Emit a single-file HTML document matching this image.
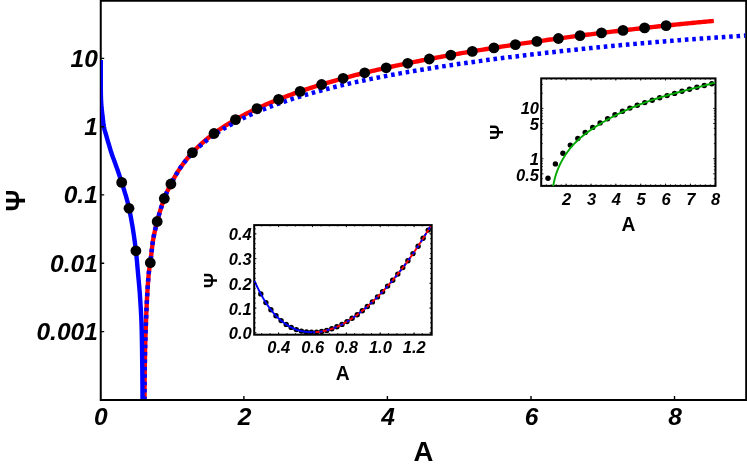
<!DOCTYPE html>
<html><head><meta charset="utf-8"><title>Plot</title>
<style>html,body{margin:0;padding:0;background:#fff;}svg{display:block;transform:translateZ(0);will-change:transform;}</style></head>
<body>
<svg width="747" height="467" viewBox="0 0 747 467" font-family="'Liberation Sans', sans-serif" font-weight="bold" fill="#000">
<rect width="747" height="467" fill="#fff"/>
<defs><clipPath id="cp"><rect x="100.8" y="0" width="644.5" height="399"/></clipPath></defs>
<g fill="none" stroke="#000">
<path d="M100.75 0.8 H746.2 V399.9 H100.75 Z" stroke-width="2.0"/>
</g>
<g fill="none" stroke-linejoin="round" clip-path="url(#cp)">
<path d="M144.50 400.00 L144.50 398.18 L144.50 396.37 L144.51 394.55 L144.52 392.74 L144.53 390.92 L144.54 389.10 L144.55 387.29 L144.57 385.47 L144.58 383.66 L144.60 381.84 L144.62 380.02 L144.64 378.21 L144.66 376.39 L144.69 374.58 L144.71 372.76 L144.73 370.94 L144.76 369.13 L144.79 367.31 L144.81 365.50 L144.84 363.68 L144.87 361.86 L144.90 360.05 L144.93 358.23 L144.96 356.42 L144.99 354.60 L145.02 352.78 L145.06 350.97 L145.10 349.15 L145.14 347.34 L145.19 345.52 L145.24 343.71 L145.29 341.89 L145.35 340.07 L145.41 338.26 L145.47 336.44 L145.53 334.63 L145.60 332.81 L145.66 330.99 L145.72 329.18 L145.79 327.36 L145.85 325.55 L145.92 323.73 L145.98 321.91 L146.05 320.10 L146.12 318.28 L146.19 316.47 L146.27 314.65 L146.34 312.83 L146.42 311.02 L146.50 309.20 L146.58 307.39 L146.66 305.57 L146.75 303.75 L146.84 301.94 L146.93 300.12 L147.03 298.31 L147.13 296.49 L147.23 294.67 L147.33 292.86 L147.44 291.04 L147.55 289.23 L147.66 287.41 L147.78 285.59 L147.90 283.78 L148.04 281.96 L148.18 280.15 L148.32 278.33 L148.48 276.51 L148.64 274.70 L148.82 272.88 L149.02 271.07 L149.27 269.25 L149.55 267.43 L149.85 265.62 L150.14 263.80 L150.40 261.99 L150.63 260.17 L150.85 258.35 L151.06 256.54 L151.26 254.72 L151.46 252.91 L151.66 251.09 L151.87 249.27 L152.08 247.46 L152.30 245.64 L152.54 243.83 L152.79 242.01 L153.07 240.19 L153.37 238.38 L153.70 236.56 L154.06 234.75 L154.44 232.93 L154.84 231.12 L155.26 229.30 L155.70 227.48 L156.14 225.67 L156.60 223.85 L157.06 222.04 L157.53 220.22 L158.01 218.40 L158.51 216.59 L159.01 214.77 L159.53 212.96 L160.07 211.14 L160.63 209.32 L161.20 207.51 L161.78 205.69 L162.39 203.88 L163.02 202.06 L163.66 200.24 L164.33 198.43 L165.03 196.61 L165.77 194.80 L166.55 192.98 L167.37 191.16 L168.22 189.35 L169.09 187.53 L169.99 185.72 L170.90 183.90 L172.72 180.49 L174.53 177.21 L176.35 174.10 L178.16 171.16 L179.98 168.37 L181.79 165.72 L183.61 163.20 L185.43 160.81 L187.24 158.53 L189.06 156.35 L190.87 154.27 L192.69 152.28 L194.50 150.37 L196.32 148.53 L198.14 146.77 L199.95 145.06 L201.77 143.41 L203.58 141.82 L205.40 140.27 L207.21 138.77 L209.03 137.30 L210.85 135.88 L212.66 134.49 L214.48 133.14 L216.29 131.82 L218.11 130.53 L219.92 129.27 L221.74 128.04 L223.56 126.84 L225.37 125.66 L227.19 124.52 L229.00 123.39 L230.82 122.29 L232.63 121.22 L234.45 120.16 L236.27 119.13 L238.08 118.12 L239.90 117.12 L241.71 116.15 L243.53 115.19 L245.34 114.25 L247.16 113.33 L248.98 112.42 L250.79 111.53 L252.61 110.65 L254.42 109.79 L256.24 108.94 L258.05 108.10 L259.87 107.27 L261.69 106.46 L263.50 105.66 L265.32 104.86 L267.13 104.08 L268.95 103.31 L270.76 102.55 L272.58 101.80 L274.40 101.05 L276.21 100.32 L278.03 99.59 L279.84 98.88 L281.66 98.17 L283.47 97.47 L285.29 96.78 L287.11 96.09 L288.92 95.42 L290.74 94.75 L292.55 94.09 L294.37 93.44 L296.18 92.79 L298.00 92.16 L299.82 91.53 L301.63 90.90 L303.45 90.29 L305.26 89.68 L307.08 89.07 L308.89 88.48 L310.71 87.89 L312.53 87.31 L314.34 86.73 L316.16 86.16 L317.97 85.59 L319.79 85.04 L321.60 84.48 L323.42 83.94 L325.24 83.39 L327.05 82.86 L328.87 82.33 L330.68 81.80 L332.50 81.28 L334.31 80.77 L336.13 80.26 L337.95 79.75 L339.76 79.25 L341.58 78.76 L343.39 78.27 L345.21 77.78 L347.02 77.30 L348.84 76.82 L350.66 76.35 L352.47 75.88 L354.29 75.41 L356.10 74.95 L357.92 74.50 L359.73 74.05 L361.55 73.60 L363.37 73.15 L365.18 72.71 L367.00 72.27 L368.81 71.84 L370.63 71.41 L372.44 70.98 L374.26 70.56 L376.08 70.14 L377.89 69.72 L379.71 69.30 L381.52 68.89 L383.34 68.49 L385.15 68.08 L386.97 67.68 L388.79 67.28 L390.60 66.88 L392.42 66.49 L394.23 66.10 L396.05 65.71 L397.86 65.32 L399.68 64.94 L401.50 64.56 L403.31 64.18 L405.13 63.81 L406.94 63.43 L408.76 63.06 L410.57 62.69 L412.39 62.33 L414.21 61.96 L416.02 61.60 L417.84 61.24 L419.65 60.88 L421.47 60.53 L423.28 60.17 L425.10 59.82 L426.92 59.47 L428.73 59.13 L430.55 58.78 L432.36 58.44 L434.18 58.10 L435.99 57.76 L437.81 57.42 L439.63 57.09 L441.44 56.75 L443.26 56.42 L445.07 56.09 L446.89 55.76 L448.71 55.44 L450.52 55.11 L452.34 54.79 L454.15 54.47 L455.97 54.15 L457.78 53.83 L459.60 53.52 L461.42 53.20 L463.23 52.89 L465.05 52.58 L466.86 52.27 L468.68 51.96 L470.49 51.66 L472.31 51.35 L474.13 51.05 L475.94 50.75 L477.76 50.45 L479.57 50.15 L481.39 49.85 L483.20 49.56 L485.02 49.26 L486.84 48.97 L488.65 48.68 L490.47 48.39 L492.28 48.10 L494.10 47.82 L495.91 47.53 L497.73 47.25 L499.55 46.97 L501.36 46.68 L503.18 46.40 L504.99 46.13 L506.81 45.85 L508.62 45.57 L510.44 45.30 L512.26 45.02 L514.07 44.75 L515.89 44.48 L517.70 44.21 L519.52 43.94 L521.33 43.68 L523.15 43.41 L524.97 43.14 L526.78 42.88 L528.60 42.62 L530.41 42.36 L532.23 42.10 L534.04 41.84 L535.86 41.58 L537.68 41.32 L539.49 41.07 L541.31 40.81 L543.12 40.56 L544.94 40.31 L546.75 40.05 L548.57 39.80 L550.39 39.55 L552.20 39.31 L554.02 39.06 L555.83 38.81 L557.65 38.57 L559.46 38.32 L561.28 38.08 L563.10 37.84 L564.91 37.59 L566.73 37.35 L568.54 37.12 L570.36 36.88 L572.17 36.64 L573.99 36.40 L575.81 36.17 L577.62 35.93 L579.44 35.70 L581.25 35.47 L583.07 35.23 L584.88 35.00 L586.70 34.77 L588.52 34.54 L590.33 34.32 L592.15 34.09 L593.96 33.86 L595.78 33.64 L597.59 33.41 L599.41 33.19 L601.23 32.97 L603.04 32.74 L604.86 32.52 L606.67 32.30 L608.49 32.08 L610.30 31.87 L612.12 31.65 L613.94 31.43 L615.75 31.22 L617.57 31.00 L619.38 30.79 L621.20 30.58 L623.01 30.36 L624.83 30.15 L626.65 29.94 L628.46 29.73 L630.28 29.52 L632.09 29.32 L633.91 29.11 L635.72 28.90 L637.54 28.70 L639.36 28.49 L641.17 28.29 L642.99 28.09 L644.80 27.89 L646.62 27.68 L648.43 27.48 L650.25 27.29 L652.07 27.09 L653.88 26.89 L655.70 26.69 L657.51 26.50 L659.33 26.30 L661.14 26.11 L662.96 25.92 L664.78 25.73 L666.59 25.53 L668.41 25.34 L670.22 25.16 L672.04 24.97 L673.85 24.78 L675.67 24.59 L677.49 24.41 L679.30 24.22 L681.12 24.04 L682.93 23.86 L684.75 23.68 L686.56 23.50 L688.38 23.32 L690.20 23.14 L692.01 22.96 L693.83 22.78 L695.64 22.61 L697.46 22.43 L699.27 22.26 L701.09 22.09 L702.91 21.92 L704.72 21.74 L706.54 21.58 L708.35 21.41 L710.17 21.24 L711.98 21.07 L713.80 20.91" stroke="#ff0000" stroke-width="4.4"/>
<path d="M100.80 60.00 L100.80 61.71 L100.80 63.42 L100.80 65.13 L100.80 66.83 L100.80 68.54 L100.80 70.25 L100.80 71.96 L100.80 73.67 L100.80 75.38 L100.80 77.09 L100.80 78.79 L100.80 80.50 L100.80 82.21 L100.80 83.92 L100.80 85.63 L100.81 87.34 L100.82 89.05 L100.84 90.75 L100.86 92.46 L100.89 94.17 L100.92 95.88 L100.97 97.59 L101.03 99.30 L101.12 101.01 L101.21 102.71 L101.32 104.42 L101.43 106.13 L101.57 107.84 L101.75 109.55 L101.96 111.26 L102.17 112.96 L102.39 114.67 L102.60 116.38 L102.79 118.09 L102.98 119.80 L103.17 121.51 L103.37 123.22 L103.60 124.92 L103.87 126.63 L104.21 128.34 L104.64 130.05 L105.13 131.76 L105.64 133.47 L106.15 135.18 L106.63 136.88 L107.12 138.59 L107.62 140.30 L108.12 142.01 L108.63 143.72 L109.14 145.43 L109.64 147.14 L110.16 148.84 L110.68 150.55 L111.22 152.26 L111.79 153.97 L112.38 155.68 L112.99 157.39 L113.62 159.10 L114.25 160.80 L114.88 162.51 L115.51 164.22 L116.12 165.93 L116.72 167.64 L117.32 169.35 L117.91 171.06 L118.51 172.76 L119.09 174.47 L119.67 176.18 L120.25 177.89 L120.81 179.60 L121.36 181.31 L121.89 183.02 L122.43 184.72 L122.96 186.43 L123.50 188.14 L124.04 189.85 L124.57 191.56 L125.09 193.27 L125.60 194.97 L126.11 196.68 L126.60 198.39 L127.07 200.10 L127.53 201.81 L127.97 203.52 L128.38 205.23 L128.77 206.93 L129.14 208.64 L129.49 210.35 L129.84 212.06 L130.18 213.77 L130.51 215.48 L130.83 217.19 L131.15 218.89 L131.46 220.60 L131.77 222.31 L132.07 224.02 L132.36 225.73 L132.64 227.44 L132.92 229.15 L133.19 230.85 L133.46 232.56 L133.71 234.27 L133.97 235.98 L134.21 237.69 L134.45 239.40 L134.69 241.11 L134.91 242.81 L135.14 244.52 L135.35 246.23 L135.56 247.94 L135.77 249.65 L135.96 251.36 L136.15 253.07 L136.33 254.77 L136.51 256.48 L136.67 258.19 L136.83 259.90 L136.99 261.61 L137.14 263.32 L137.29 265.03 L137.44 266.73 L137.58 268.44 L137.73 270.15 L137.89 271.86 L138.04 273.57 L138.20 275.28 L138.36 276.98 L138.52 278.69 L138.68 280.40 L138.84 282.11 L139.00 283.82 L139.15 285.53 L139.30 287.24 L139.44 288.94 L139.58 290.65 L139.71 292.36 L139.84 294.07 L139.95 295.78 L140.07 297.49 L140.18 299.20 L140.29 300.90 L140.40 302.61 L140.51 304.32 L140.62 306.03 L140.72 307.74 L140.82 309.45 L140.92 311.16 L141.01 312.86 L141.10 314.57 L141.19 316.28 L141.27 317.99 L141.34 319.70 L141.41 321.41 L141.48 323.12 L141.54 324.82 L141.59 326.53 L141.63 328.24 L141.68 329.95 L141.72 331.66 L141.76 333.37 L141.79 335.08 L141.83 336.78 L141.86 338.49 L141.89 340.20 L141.92 341.91 L141.95 343.62 L141.98 345.33 L142.01 347.04 L142.03 348.74 L142.05 350.45 L142.08 352.16 L142.10 353.87 L142.12 355.58 L142.14 357.29 L142.16 358.99 L142.18 360.70 L142.20 362.41 L142.22 364.12 L142.24 365.83 L142.26 367.54 L142.28 369.25 L142.30 370.95 L142.31 372.66 L142.33 374.37 L142.35 376.08 L142.36 377.79 L142.38 379.50 L142.39 381.21 L142.41 382.91 L142.42 384.62 L142.43 386.33 L142.44 388.04 L142.46 389.75 L142.47 391.46 L142.47 393.17 L142.48 394.87 L142.49 396.58 L142.50 398.29 L142.50 400.00" stroke="#0000ff" stroke-width="4.4"/>
<path d="M144.50 400.00 L144.50 398.18 L144.50 396.37 L144.51 394.55 L144.52 392.74 L144.53 390.92 L144.54 389.10 L144.55 387.29 L144.57 385.47 L144.58 383.66 L144.60 381.84 L144.62 380.02 L144.64 378.21 L144.66 376.39 L144.69 374.58 L144.71 372.76 L144.73 370.94 L144.76 369.13 L144.79 367.31 L144.81 365.50 L144.84 363.68 L144.87 361.86 L144.90 360.05 L144.93 358.23 L144.96 356.42 L144.99 354.60 L145.02 352.78 L145.06 350.97 L145.10 349.15 L145.14 347.34 L145.19 345.52 L145.24 343.71 L145.29 341.89 L145.35 340.07 L145.41 338.26 L145.47 336.44 L145.53 334.63 L145.60 332.81 L145.66 330.99 L145.72 329.18 L145.79 327.36 L145.85 325.55 L145.92 323.73 L145.98 321.91 L146.05 320.10 L146.12 318.28 L146.19 316.47 L146.27 314.65 L146.34 312.83 L146.42 311.02 L146.50 309.20 L146.58 307.39 L146.66 305.57 L146.75 303.75 L146.84 301.94 L146.93 300.12 L147.03 298.31 L147.13 296.49 L147.23 294.67 L147.33 292.86 L147.44 291.04 L147.55 289.23 L147.66 287.41 L147.78 285.59 L147.90 283.78 L148.04 281.96 L148.18 280.15 L148.32 278.33 L148.48 276.51 L148.64 274.70 L148.82 272.88 L149.02 271.07 L149.27 269.25 L149.55 267.43 L149.85 265.62 L150.14 263.80 L150.40 261.99 L150.63 260.17 L150.85 258.35 L151.06 256.54 L151.26 254.72 L151.46 252.91 L151.66 251.09 L151.87 249.27 L152.08 247.46 L152.30 245.64 L152.54 243.83 L152.79 242.01 L153.07 240.19 L153.37 238.38 L153.70 236.56 L154.06 234.75 L154.44 232.93 L154.84 231.12 L155.26 229.30 L155.70 227.48 L156.14 225.67 L156.60 223.85 L157.06 222.04 L157.53 220.22 L158.01 218.40 L158.51 216.59 L159.01 214.77 L159.53 212.96 L160.07 211.14 L160.63 209.32 L161.20 207.51 L161.78 205.69 L162.39 203.88 L163.02 202.06 L163.66 200.24 L164.33 198.43 L165.03 196.61 L165.77 194.80 L166.55 192.98 L167.37 191.16 L168.22 189.35 L169.09 187.53 L169.99 185.72 L170.90 183.90 L172.83 180.28 L174.75 176.82 L176.68 173.55 L178.61 170.46 L180.53 167.54 L182.46 164.86 L184.39 162.33 L186.31 159.94 L188.24 157.67 L190.17 155.51 L192.09 153.46 L194.02 151.49 L195.95 149.62 L197.87 147.82 L199.80 146.09 L201.73 144.43 L203.65 142.82 L205.58 141.27 L207.51 139.77 L209.44 138.31 L211.36 136.90 L213.29 135.52 L215.22 134.19 L217.14 132.89 L219.07 131.62 L221.00 130.39 L222.92 129.19 L224.85 128.02 L226.78 126.88 L228.70 125.76 L230.63 124.68 L232.56 123.62 L234.48 122.58 L236.41 121.57 L238.34 120.58 L240.26 119.61 L242.19 118.66 L244.12 117.73 L246.04 116.82 L247.97 115.93 L249.90 115.06 L251.82 114.20 L253.75 113.36 L255.68 112.53 L257.60 111.72 L259.53 110.92 L261.46 110.13 L263.38 109.35 L265.31 108.59 L267.24 107.84 L269.16 107.10 L271.09 106.37 L273.02 105.65 L274.94 104.94 L276.87 104.24 L278.80 103.55 L280.73 102.87 L282.65 102.20 L284.58 101.54 L286.51 100.89 L288.43 100.24 L290.36 99.61 L292.29 98.98 L294.21 98.36 L296.14 97.75 L298.07 97.15 L299.99 96.55 L301.92 95.96 L303.85 95.38 L305.77 94.81 L307.70 94.25 L309.63 93.69 L311.55 93.14 L313.48 92.59 L315.41 92.06 L317.33 91.53 L319.26 91.00 L321.19 90.48 L323.11 89.97 L325.04 89.47 L326.97 88.97 L328.89 88.47 L330.82 87.99 L332.75 87.50 L334.67 87.03 L336.60 86.55 L338.53 86.09 L340.45 85.63 L342.38 85.17 L344.31 84.72 L346.23 84.27 L348.16 83.83 L350.09 83.40 L352.02 82.96 L353.94 82.54 L355.87 82.11 L357.80 81.69 L359.72 81.28 L361.65 80.87 L363.58 80.46 L365.50 80.06 L367.43 79.66 L369.36 79.27 L371.28 78.87 L373.21 78.49 L375.14 78.10 L377.06 77.72 L378.99 77.34 L380.92 76.97 L382.84 76.60 L384.77 76.23 L386.70 75.87 L388.62 75.50 L390.55 75.14 L392.48 74.79 L394.40 74.44 L396.33 74.09 L398.26 73.74 L400.18 73.39 L402.11 73.05 L404.04 72.71 L405.96 72.37 L407.89 72.04 L409.82 71.71 L411.74 71.38 L413.67 71.05 L415.60 70.73 L417.52 70.40 L419.45 70.08 L421.38 69.76 L423.31 69.45 L425.23 69.13 L427.16 68.82 L429.09 68.51 L431.01 68.21 L432.94 67.90 L434.87 67.60 L436.79 67.29 L438.72 66.99 L440.65 66.70 L442.57 66.40 L444.50 66.11 L446.43 65.82 L448.35 65.53 L450.28 65.24 L452.21 64.95 L454.13 64.67 L456.06 64.38 L457.99 64.10 L459.91 63.82 L461.84 63.55 L463.77 63.27 L465.69 63.00 L467.62 62.72 L469.55 62.45 L471.47 62.18 L473.40 61.92 L475.33 61.65 L477.25 61.39 L479.18 61.12 L481.11 60.86 L483.03 60.60 L484.96 60.34 L486.89 60.09 L488.81 59.83 L490.74 59.58 L492.67 59.33 L494.59 59.07 L496.52 58.83 L498.45 58.58 L500.38 58.33 L502.30 58.09 L504.23 57.84 L506.16 57.60 L508.08 57.36 L510.01 57.12 L511.94 56.88 L513.86 56.64 L515.79 56.40 L517.72 56.17 L519.64 55.94 L521.57 55.70 L523.50 55.47 L525.42 55.24 L527.35 55.01 L529.28 54.79 L531.20 54.56 L533.13 54.33 L535.06 54.11 L536.98 53.89 L538.91 53.67 L540.84 53.45 L542.76 53.23 L544.69 53.01 L546.62 52.79 L548.54 52.57 L550.47 52.36 L552.40 52.14 L554.32 51.93 L556.25 51.72 L558.18 51.51 L560.10 51.30 L562.03 51.09 L563.96 50.88 L565.88 50.67 L567.81 50.47 L569.74 50.26 L571.67 50.06 L573.59 49.86 L575.52 49.66 L577.45 49.45 L579.37 49.25 L581.30 49.06 L583.23 48.86 L585.15 48.66 L587.08 48.47 L589.01 48.27 L590.93 48.08 L592.86 47.88 L594.79 47.69 L596.71 47.50 L598.64 47.31 L600.57 47.12 L602.49 46.93 L604.42 46.74 L606.35 46.56 L608.27 46.37 L610.20 46.19 L612.13 46.00 L614.05 45.82 L615.98 45.64 L617.91 45.46 L619.83 45.28 L621.76 45.10 L623.69 44.92 L625.61 44.74 L627.54 44.57 L629.47 44.39 L631.39 44.22 L633.32 44.04 L635.25 43.87 L637.17 43.70 L639.10 43.53 L641.03 43.36 L642.96 43.19 L644.88 43.02 L646.81 42.86 L648.74 42.69 L650.66 42.53 L652.59 42.36 L654.52 42.20 L656.44 42.04 L658.37 41.88 L660.30 41.72 L662.22 41.56 L664.15 41.40 L666.08 41.24 L668.00 41.09 L669.93 40.93 L671.86 40.78 L673.78 40.62 L675.71 40.47 L677.64 40.32 L679.56 40.17 L681.49 40.02 L683.42 39.87 L685.34 39.73 L687.27 39.58 L689.20 39.44 L691.12 39.29 L693.05 39.15 L694.98 39.01 L696.90 38.87 L698.83 38.73 L700.76 38.59 L702.68 38.46 L704.61 38.32 L706.54 38.19 L708.46 38.06 L710.39 37.92 L712.32 37.79 L714.25 37.66 L716.17 37.54 L718.10 37.41 L720.03 37.28 L721.95 37.15 L723.88 37.02 L725.81 36.89 L727.73 36.76 L729.66 36.63 L731.59 36.51 L733.51 36.38 L735.44 36.25 L737.37 36.12 L739.29 35.99 L741.22 35.86 L743.15 35.73 L745.07 35.60 L747.00 35.48" stroke="#0000ff" stroke-width="4.5" stroke-dasharray="3.6 3.8"/>
</g>
<path d="M101 58.4 h3.2 M101 126.8 h3.2 M101 194.9 h3.2 M101 263.2 h3.2 M101 331.6 h3.2 M243.9 399.5 v-3.6 M387.4 399.5 v-3.6 M531.0 399.5 v-3.6 M674.5 399.5 v-3.6" stroke="#000" stroke-width="1.4" fill="none"/>
<g><circle cx="121.7" cy="182.4" r="5.4"/><circle cx="129.0" cy="208.3" r="5.4"/><circle cx="135.9" cy="250.8" r="5.4"/><circle cx="150.3" cy="262.7" r="5.4"/><circle cx="157.2" cy="221.5" r="5.4"/><circle cx="164.3" cy="198.5" r="5.4"/><circle cx="170.9" cy="184.0" r="5.4"/><circle cx="192.4" cy="152.6" r="5.4"/><circle cx="214.0" cy="133.5" r="5.4"/><circle cx="235.5" cy="119.6" r="5.4"/><circle cx="257.0" cy="108.6" r="5.4"/><circle cx="278.6" cy="99.4" r="5.4"/><circle cx="300.1" cy="91.4" r="5.4"/><circle cx="321.6" cy="84.5" r="5.4"/><circle cx="343.1" cy="78.3" r="5.4"/><circle cx="364.7" cy="72.8" r="5.4"/><circle cx="386.2" cy="67.8" r="5.4"/><circle cx="407.7" cy="63.3" r="5.4"/><circle cx="429.3" cy="59.0" r="5.4"/><circle cx="450.8" cy="55.1" r="5.4"/><circle cx="472.3" cy="51.4" r="5.4"/><circle cx="493.9" cy="47.9" r="5.4"/><circle cx="515.4" cy="44.6" r="5.4"/><circle cx="536.9" cy="41.4" r="5.4"/><circle cx="558.4" cy="38.5" r="5.4"/><circle cx="580.0" cy="35.6" r="5.4"/><circle cx="601.5" cy="32.9" r="5.4"/><circle cx="623.0" cy="30.4" r="5.4"/><circle cx="644.6" cy="27.9" r="5.4"/><circle cx="666.1" cy="25.6" r="5.4"/></g>
<text x="97.8" y="66.7" font-size="24.5" text-anchor="end" font-style="italic">10</text>
<text x="97.8" y="135.1" font-size="24.5" text-anchor="end" font-style="italic">1</text>
<text x="97.8" y="203.2" font-size="24.5" text-anchor="end" font-style="italic">0.1</text>
<text x="97.8" y="271.5" font-size="24.5" text-anchor="end" font-style="italic">0.01</text>
<text x="97.8" y="339.9" font-size="24.5" text-anchor="end" font-style="italic">0.001</text>
<text x="100.8" y="425.2" font-size="24.5" text-anchor="middle" font-style="italic">0</text>
<text x="244.6" y="425.2" font-size="24.5" text-anchor="middle" font-style="italic">2</text>
<text x="388.1" y="425.2" font-size="24.5" text-anchor="middle" font-style="italic">4</text>
<text x="531.5" y="425.2" font-size="24.5" text-anchor="middle" font-style="italic">6</text>
<text x="675.1" y="425.2" font-size="24.5" text-anchor="middle" font-style="italic">8</text>
<text x="423.5" y="460.6" font-size="27.5" text-anchor="middle">A</text>
<text transform="translate(24.8,200.6) rotate(-90)" font-size="27" text-anchor="middle">&#936;</text>
<rect x="254.2" y="225.1" width="177.5" height="109.6" fill="#fff" stroke="#000" stroke-width="2"/>
<g><circle cx="260.8" cy="293.9" r="2.7"/><circle cx="265.9" cy="302.6" r="2.7"/><circle cx="270.9" cy="309.8" r="2.7"/><circle cx="276.0" cy="315.8" r="2.7"/><circle cx="281.1" cy="320.6" r="2.7"/><circle cx="286.2" cy="324.4" r="2.7"/><circle cx="291.2" cy="327.4" r="2.7"/><circle cx="296.3" cy="329.6" r="2.7"/><circle cx="301.4" cy="331.1" r="2.7"/><circle cx="306.5" cy="332.0" r="2.7"/><circle cx="311.5" cy="332.3" r="2.7"/><circle cx="316.6" cy="332.1" r="2.7"/><circle cx="321.7" cy="331.5" r="2.7"/><circle cx="326.7" cy="330.4" r="2.7"/><circle cx="331.8" cy="328.8" r="2.7"/><circle cx="336.9" cy="326.8" r="2.7"/><circle cx="342.0" cy="324.4" r="2.7"/><circle cx="347.0" cy="321.6" r="2.7"/><circle cx="352.1" cy="318.3" r="2.7"/><circle cx="357.2" cy="314.7" r="2.7"/><circle cx="362.3" cy="310.8" r="2.7"/><circle cx="367.3" cy="306.5" r="2.7"/><circle cx="372.4" cy="301.9" r="2.7"/><circle cx="377.5" cy="296.9" r="2.7"/><circle cx="382.6" cy="291.7" r="2.7"/><circle cx="387.6" cy="286.1" r="2.7"/><circle cx="392.7" cy="280.3" r="2.7"/><circle cx="397.8" cy="274.1" r="2.7"/><circle cx="402.8" cy="267.6" r="2.7"/><circle cx="407.9" cy="260.8" r="2.7"/><circle cx="413.0" cy="253.6" r="2.7"/><circle cx="418.1" cy="246.2" r="2.7"/><circle cx="423.1" cy="238.3" r="2.7"/><circle cx="428.2" cy="230.1" r="2.7"/></g>
<g fill="none">
<path d="M254.50 280.86 L255.27 282.61 L256.04 284.32 L256.82 285.98 L257.59 287.60 L258.36 289.18 L259.13 290.72 L259.91 292.23 L260.68 293.69 L261.45 295.12 L262.22 296.51 L262.99 297.86 L263.77 299.18 L264.54 300.46 L265.31 301.70 L266.08 302.92 L266.85 304.10 L267.63 305.25 L268.40 306.36 L269.17 307.45 L269.94 308.50 L270.72 309.52 L271.49 310.52 L272.26 311.48 L273.03 312.41 L273.80 313.32 L274.58 314.20 L275.35 315.05 L276.12 315.88 L276.89 316.68 L277.66 317.45 L278.44 318.20 L279.21 318.93 L279.98 319.63 L280.75 320.31 L281.53 320.96 L282.30 321.59 L283.07 322.20 L283.84 322.79 L284.61 323.35 L285.39 323.90 L286.16 324.42 L286.93 324.92 L287.70 325.41 L288.47 325.87 L289.25 326.32 L290.02 326.74 L290.79 327.15 L291.56 327.54 L292.34 327.92 L293.11 328.27 L293.88 328.61 L294.65 328.93 L295.42 329.24 L296.20 329.52 L296.97 329.80 L297.74 330.05 L298.51 330.30 L299.28 330.52 L300.06 330.74 L300.83 330.93 L301.60 331.12 L302.37 331.29 L303.15 331.44 L303.92 331.58 L304.69 331.71 L305.46 331.83 L306.23 331.93 L307.01 332.02 L307.78 332.10 L308.55 332.16 L309.32 332.21 L310.09 332.25 L310.87 332.28 L311.64 332.30 L312.41 332.30 L313.18 332.29 L313.96 332.27 L314.73 332.24 L315.50 332.20" stroke="#0000ff" stroke-width="1.9"/>
<path d="M315.50 332.20 L316.47 332.13 L317.43 332.05 L318.40 331.94 L319.37 331.82 L320.34 331.69 L321.30 331.53 L322.27 331.36 L323.24 331.17 L324.21 330.97 L325.17 330.75 L326.14 330.52 L327.11 330.26 L328.07 329.99 L329.04 329.71 L330.01 329.41 L330.98 329.09 L331.94 328.76 L332.91 328.41 L333.88 328.05 L334.84 327.67 L335.81 327.27 L336.78 326.86 L337.75 326.43 L338.71 325.99 L339.68 325.53 L340.65 325.06 L341.62 324.57 L342.58 324.07 L343.55 323.55 L344.52 323.01 L345.48 322.47 L346.45 321.90 L347.42 321.33 L348.39 320.74 L349.35 320.13 L350.32 319.51 L351.29 318.88 L352.25 318.23 L353.22 317.57 L354.19 316.90 L355.16 316.22 L356.12 315.52 L357.09 314.80 L358.06 314.08 L359.03 313.34 L359.99 312.59 L360.96 311.83 L361.93 311.05 L362.89 310.26 L363.86 309.46 L364.83 308.65 L365.80 307.82 L366.76 306.99 L367.73 306.14 L368.70 305.28 L369.66 304.40 L370.63 303.52 L371.60 302.62 L372.57 301.72 L373.53 300.80 L374.50 299.87 L375.47 298.92 L376.44 297.97 L377.40 297.01 L378.37 296.03 L379.34 295.04 L380.30 294.04 L381.27 293.03 L382.24 292.01 L383.21 290.98 L384.17 289.94 L385.14 288.88 L386.11 287.81 L387.07 286.74 L388.04 285.65 L389.01 284.55 L389.98 283.44 L390.94 282.32 L391.91 281.18 L392.88 280.04 L393.85 278.88 L394.81 277.72 L395.78 276.54 L396.75 275.35 L397.71 274.15 L398.68 272.94 L399.65 271.71 L400.62 270.48 L401.58 269.23 L402.55 267.97 L403.52 266.70 L404.48 265.42 L405.45 264.13 L406.42 262.82 L407.39 261.51 L408.35 260.18 L409.32 258.84 L410.29 257.48 L411.26 256.12 L412.22 254.74 L413.19 253.35 L414.16 251.95 L415.12 250.53 L416.09 249.10 L417.06 247.66 L418.03 246.21 L418.99 244.74 L419.96 243.26 L420.93 241.77 L421.89 240.26 L422.86 238.74 L423.83 237.21 L424.80 235.66 L425.76 234.10 L426.73 232.52 L427.70 230.93 L428.67 229.33 L429.63 227.71 L430.60 226.07" stroke="#ff0000" stroke-width="1.9"/>
<path d="M315.50 332.20 L316.47 332.13 L317.43 332.05 L318.40 331.94 L319.37 331.82 L320.34 331.69 L321.30 331.53 L322.27 331.36 L323.24 331.17 L324.21 330.97 L325.17 330.75 L326.14 330.52 L327.11 330.26 L328.07 329.99 L329.04 329.71 L330.01 329.41 L330.98 329.09 L331.94 328.76 L332.91 328.41 L333.88 328.05 L334.84 327.67 L335.81 327.27 L336.78 326.86 L337.75 326.43 L338.71 325.99 L339.68 325.53 L340.65 325.06 L341.62 324.57 L342.58 324.07 L343.55 323.55 L344.52 323.01 L345.48 322.47 L346.45 321.90 L347.42 321.33 L348.39 320.74 L349.35 320.13 L350.32 319.51 L351.29 318.88 L352.25 318.23 L353.22 317.57 L354.19 316.90 L355.16 316.22 L356.12 315.52 L357.09 314.80 L358.06 314.08 L359.03 313.34 L359.99 312.59 L360.96 311.83 L361.93 311.05 L362.89 310.26 L363.86 309.46 L364.83 308.65 L365.80 307.82 L366.76 306.99 L367.73 306.14 L368.70 305.28 L369.66 304.40 L370.63 303.52 L371.60 302.62 L372.57 301.72 L373.53 300.80 L374.50 299.87 L375.47 298.92 L376.44 297.97 L377.40 297.01 L378.37 296.03 L379.34 295.04 L380.30 294.04 L381.27 293.03 L382.24 292.01 L383.21 290.98 L384.17 289.94 L385.14 288.88 L386.11 287.81 L387.07 286.74 L388.04 285.65 L389.01 284.55 L389.98 283.44 L390.94 282.32 L391.91 281.18 L392.88 280.04 L393.85 278.88 L394.81 277.72 L395.78 276.54 L396.75 275.35 L397.71 274.15 L398.68 272.94 L399.65 271.71 L400.62 270.48 L401.58 269.23 L402.55 267.97 L403.52 266.70 L404.48 265.42 L405.45 264.13 L406.42 262.82 L407.39 261.51 L408.35 260.18 L409.32 258.84 L410.29 257.48 L411.26 256.12 L412.22 254.74 L413.19 253.35 L414.16 251.95 L415.12 250.53 L416.09 249.10 L417.06 247.66 L418.03 246.21 L418.99 244.74 L419.96 243.26 L420.93 241.77 L421.89 240.26 L422.86 238.74 L423.83 237.21 L424.80 235.66 L425.76 234.10 L426.73 232.52 L427.70 230.93 L428.67 229.33 L429.63 227.71 L430.60 226.07" stroke="#0000ff" stroke-width="1.9" stroke-dasharray="3.3 4" stroke-dashoffset="3.3"/>
</g>
<text x="251.8" y="240.2" font-size="16.5" text-anchor="end" font-style="italic">0.4</text>
<text x="251.8" y="265.0" font-size="16.5" text-anchor="end" font-style="italic">0.3</text>
<text x="251.8" y="289.7" font-size="16.5" text-anchor="end" font-style="italic">0.2</text>
<text x="251.8" y="314.5" font-size="16.5" text-anchor="end" font-style="italic">0.1</text>
<text x="251.8" y="339.2" font-size="16.5" text-anchor="end" font-style="italic">0.0</text>
<text x="278.7" y="352.9" font-size="16.5" text-anchor="middle" font-style="italic">0.4</text>
<text x="312.6" y="352.9" font-size="16.5" text-anchor="middle" font-style="italic">0.6</text>
<text x="346.5" y="352.9" font-size="16.5" text-anchor="middle" font-style="italic">0.8</text>
<text x="380.4" y="352.9" font-size="16.5" text-anchor="middle" font-style="italic">1.0</text>
<text x="414.3" y="352.9" font-size="16.5" text-anchor="middle" font-style="italic">1.2</text>
<text x="342.8" y="380.0" font-size="19.3" text-anchor="middle">A</text>
<text transform="translate(216.8,280.5) rotate(-90)" font-size="19" text-anchor="middle">&#936;</text>
<path d="M278.6 334.5 v-2.2 M278.6 225 v2.2 M312.5 334.5 v-2.2 M312.5 225 v2.2 M346.4 334.5 v-2.2 M346.4 225 v2.2 M380.3 334.5 v-2.2 M380.3 225 v2.2 M414.2 334.5 v-2.2 M414.2 225 v2.2 M261.70 334.5 v-1.5 M261.70 225 v1.5 M270.15 334.5 v-1.5 M270.15 225 v1.5 M278.60 334.5 v-1.5 M278.60 225 v1.5 M287.05 334.5 v-1.5 M287.05 225 v1.5 M295.50 334.5 v-1.5 M295.50 225 v1.5 M303.95 334.5 v-1.5 M303.95 225 v1.5 M312.40 334.5 v-1.5 M312.40 225 v1.5 M320.85 334.5 v-1.5 M320.85 225 v1.5 M329.30 334.5 v-1.5 M329.30 225 v1.5 M337.75 334.5 v-1.5 M337.75 225 v1.5 M346.20 334.5 v-1.5 M346.20 225 v1.5 M354.65 334.5 v-1.5 M354.65 225 v1.5 M363.10 334.5 v-1.5 M363.10 225 v1.5 M371.55 334.5 v-1.5 M371.55 225 v1.5 M380.00 334.5 v-1.5 M380.00 225 v1.5 M388.45 334.5 v-1.5 M388.45 225 v1.5 M396.90 334.5 v-1.5 M396.90 225 v1.5 M405.35 334.5 v-1.5 M405.35 225 v1.5 M413.80 334.5 v-1.5 M413.80 225 v1.5 M422.25 334.5 v-1.5 M422.25 225 v1.5 M430.70 334.5 v-1.5 M430.70 225 v1.5 M254.3 233.8 h2.2 M431.5 233.8 h-2.2 M254.3 258.6 h2.2 M431.5 258.6 h-2.2 M254.3 283.3 h2.2 M431.5 283.3 h-2.2 M254.3 308.1 h2.2 M431.5 308.1 h-2.2 M254.3 332.8 h2.2 M431.5 332.8 h-2.2 M254.3 332.80 h1.5 M431.5 332.80 h-1.5 M254.3 327.85 h1.5 M431.5 327.85 h-1.5 M254.3 322.90 h1.5 M431.5 322.90 h-1.5 M254.3 317.95 h1.5 M431.5 317.95 h-1.5 M254.3 313.00 h1.5 M431.5 313.00 h-1.5 M254.3 308.05 h1.5 M431.5 308.05 h-1.5 M254.3 303.10 h1.5 M431.5 303.10 h-1.5 M254.3 298.15 h1.5 M431.5 298.15 h-1.5 M254.3 293.20 h1.5 M431.5 293.20 h-1.5 M254.3 288.25 h1.5 M431.5 288.25 h-1.5 M254.3 283.30 h1.5 M431.5 283.30 h-1.5 M254.3 278.35 h1.5 M431.5 278.35 h-1.5 M254.3 273.40 h1.5 M431.5 273.40 h-1.5 M254.3 268.45 h1.5 M431.5 268.45 h-1.5 M254.3 263.50 h1.5 M431.5 263.50 h-1.5 M254.3 258.55 h1.5 M431.5 258.55 h-1.5 M254.3 253.60 h1.5 M431.5 253.60 h-1.5 M254.3 248.65 h1.5 M431.5 248.65 h-1.5 M254.3 243.70 h1.5 M431.5 243.70 h-1.5 M254.3 238.75 h1.5 M431.5 238.75 h-1.5 M254.3 233.80 h1.5 M431.5 233.80 h-1.5 M254.3 228.85 h1.5 M431.5 228.85 h-1.5" stroke="#000" stroke-width="0.8" fill="none"/>
<rect x="541.2" y="78.4" width="174.3" height="107.5" fill="#fff" stroke="#000" stroke-width="2"/>
<g><circle cx="548.0" cy="178.3" r="2.7"/><circle cx="555.4" cy="163.9" r="2.7"/><circle cx="562.9" cy="153.3" r="2.7"/><circle cx="570.3" cy="145.1" r="2.7"/><circle cx="577.8" cy="138.5" r="2.7"/><circle cx="585.2" cy="132.4" r="2.7"/><circle cx="592.7" cy="127.4" r="2.7"/><circle cx="600.1" cy="122.9" r="2.7"/><circle cx="607.6" cy="118.7" r="2.7"/><circle cx="615.0" cy="114.8" r="2.7"/><circle cx="622.5" cy="111.3" r="2.7"/><circle cx="629.9" cy="108.1" r="2.7"/><circle cx="637.3" cy="105.2" r="2.7"/><circle cx="644.8" cy="102.6" r="2.7"/><circle cx="652.2" cy="100.2" r="2.7"/><circle cx="659.7" cy="97.8" r="2.7"/><circle cx="667.1" cy="95.6" r="2.7"/><circle cx="674.6" cy="93.4" r="2.7"/><circle cx="682.0" cy="91.3" r="2.7"/><circle cx="689.5" cy="89.3" r="2.7"/><circle cx="696.9" cy="87.3" r="2.7"/><circle cx="704.3" cy="85.5" r="2.7"/><circle cx="711.8" cy="83.7" r="2.7"/></g>
<path d="M553.24 186.04 L553.41 185.03 L553.59 184.01 L553.78 183.00 L553.99 182.00 L554.21 180.99 L554.44 179.99 L554.69 179.00 L554.95 178.00 L555.22 177.02 L555.51 176.03 L555.81 175.05 L556.12 174.07 L556.45 173.10 L556.79 172.13 L557.14 171.17 L557.50 170.21 L557.88 169.26 L558.26 168.31 L558.66 167.36 L559.08 166.43 L559.50 165.49 L559.94 164.57 L560.38 163.65 L560.84 162.73 L561.31 161.82 L561.80 160.92 L562.29 160.02 L562.80 159.13 L563.31 158.25 L563.84 157.37 L564.38 156.51 L564.92 155.64 L565.48 154.79 L566.05 153.94 L566.63 153.10 L567.23 152.27 L567.83 151.45 L568.44 150.63 L569.06 149.82 L569.69 149.02 L570.33 148.23 L570.98 147.45 L571.64 146.67 L572.31 145.91 L572.99 145.15 L573.68 144.41 L574.38 143.67 L575.09 142.94 L575.80 142.22 L576.52 141.51 L577.26 140.80 L578.00 140.10 L578.74 139.42 L579.50 138.73 L580.26 138.06 L581.03 137.40 L581.81 136.74 L582.59 136.09 L583.38 135.44 L584.18 134.80 L584.98 134.17 L585.79 133.55 L586.60 132.93 L587.42 132.32 L588.25 131.72 L589.08 131.12 L589.91 130.52 L590.75 129.94 L591.60 129.36 L592.44 128.78 L593.30 128.21 L594.15 127.64 L595.01 127.08 L595.88 126.53 L596.75 125.98 L597.62 125.43 L598.49 124.89 L599.36 124.35 L600.24 123.82 L601.12 123.29 L602.01 122.77 L602.89 122.25 L603.78 121.73 L604.67 121.22 L605.55 120.71 L606.45 120.20 L607.34 119.70 L608.23 119.20 L609.13 118.71 L610.03 118.22 L610.93 117.73 L611.83 117.25 L612.73 116.77 L613.64 116.29 L614.54 115.82 L615.45 115.35 L616.36 114.89 L617.27 114.43 L618.19 113.97 L619.10 113.52 L620.02 113.07 L620.94 112.62 L621.86 112.18 L622.78 111.74 L623.70 111.31 L624.63 110.88 L625.55 110.45 L626.48 110.03 L627.41 109.61 L628.34 109.20 L629.28 108.79 L630.21 108.38 L631.15 107.98 L632.09 107.58 L633.03 107.18 L633.97 106.79 L634.92 106.41 L635.86 106.02 L636.81 105.64 L637.76 105.27 L638.71 104.89 L639.66 104.52 L640.61 104.16 L641.57 103.80 L642.52 103.44 L643.48 103.08 L644.44 102.73 L645.40 102.38 L646.36 102.04 L647.32 101.70 L648.29 101.36 L649.25 101.03 L650.22 100.69 L651.19 100.37 L652.15 100.04 L653.12 99.72 L654.09 99.40 L655.07 99.09 L656.04 98.77 L657.01 98.46 L657.99 98.16 L658.96 97.85 L659.94 97.55 L660.92 97.26 L661.90 96.96 L662.88 96.67 L663.86 96.38 L664.84 96.09 L665.82 95.80 L666.80 95.52 L667.78 95.24 L668.77 94.96 L669.75 94.68 L670.74 94.41 L671.72 94.13 L672.71 93.86 L673.69 93.59 L674.68 93.32 L675.67 93.05 L676.66 92.79 L677.64 92.52 L678.63 92.26 L679.62 91.99 L680.61 91.73 L681.60 91.47 L682.59 91.21 L683.58 90.95 L684.57 90.69 L685.56 90.44 L686.55 90.18 L687.54 89.92 L688.53 89.67 L689.52 89.41 L690.51 89.16 L691.50 88.90 L692.49 88.64 L693.48 88.39 L694.47 88.13 L695.46 87.88 L696.45 87.62 L697.44 87.36 L698.43 87.11 L699.42 86.85 L700.41 86.59 L701.40 86.33 L702.39 86.07 L703.37 85.81 L704.36 85.55 L705.35 85.29 L706.33 85.02 L707.32 84.76 L708.31 84.49 L709.29 84.23 L710.27 83.96 L711.26 83.69 L712.24 83.42 L713.22 83.14 L714.21 82.87 L715.19 82.59" stroke="#00aa00" stroke-width="1.9" fill="none"/>
<text x="539.0" y="114.3" font-size="16.5" text-anchor="end" font-style="italic">10</text>
<text x="539.0" y="129.6" font-size="16.5" text-anchor="end" font-style="italic">5</text>
<text x="539.0" y="164.7" font-size="16.5" text-anchor="end" font-style="italic">1</text>
<text x="539.0" y="180.6" font-size="16.5" text-anchor="end" font-style="italic">0.5</text>
<text x="566.6" y="204.6" font-size="16.5" text-anchor="middle" font-style="italic">2</text>
<text x="591.5" y="204.6" font-size="16.5" text-anchor="middle" font-style="italic">3</text>
<text x="616.3" y="204.6" font-size="16.5" text-anchor="middle" font-style="italic">4</text>
<text x="641.2" y="204.6" font-size="16.5" text-anchor="middle" font-style="italic">5</text>
<text x="666.0" y="204.6" font-size="16.5" text-anchor="middle" font-style="italic">6</text>
<text x="690.9" y="204.6" font-size="16.5" text-anchor="middle" font-style="italic">7</text>
<text x="715.7" y="204.6" font-size="16.5" text-anchor="middle" font-style="italic">8</text>
<text x="628.5" y="230.6" font-size="19.3" text-anchor="middle">A</text>
<text transform="translate(503.3,132.4) rotate(-90)" font-size="19" text-anchor="middle">&#936;</text>
<path d="M566.1 185.8 v-2.2 M566.1 78.4 v2.2 M591.0 185.8 v-2.2 M591.0 78.4 v2.2 M615.8 185.8 v-2.2 M615.8 78.4 v2.2 M640.7 185.8 v-2.2 M640.7 78.4 v2.2 M665.5 185.8 v-2.2 M665.5 78.4 v2.2 M690.4 185.8 v-2.2 M690.4 78.4 v2.2 M715.2 185.8 v-2.2 M715.2 78.4 v2.2 M546.27 185.8 v-1.5 M546.27 78.4 v1.5 M551.24 185.8 v-1.5 M551.24 78.4 v1.5 M556.21 185.8 v-1.5 M556.21 78.4 v1.5 M561.18 185.8 v-1.5 M561.18 78.4 v1.5 M566.15 185.8 v-1.5 M566.15 78.4 v1.5 M571.12 185.8 v-1.5 M571.12 78.4 v1.5 M576.09 185.8 v-1.5 M576.09 78.4 v1.5 M581.06 185.8 v-1.5 M581.06 78.4 v1.5 M586.03 185.8 v-1.5 M586.03 78.4 v1.5 M591.00 185.8 v-1.5 M591.00 78.4 v1.5 M595.97 185.8 v-1.5 M595.97 78.4 v1.5 M600.94 185.8 v-1.5 M600.94 78.4 v1.5 M605.91 185.8 v-1.5 M605.91 78.4 v1.5 M610.88 185.8 v-1.5 M610.88 78.4 v1.5 M615.85 185.8 v-1.5 M615.85 78.4 v1.5 M620.82 185.8 v-1.5 M620.82 78.4 v1.5 M625.79 185.8 v-1.5 M625.79 78.4 v1.5 M630.76 185.8 v-1.5 M630.76 78.4 v1.5 M635.73 185.8 v-1.5 M635.73 78.4 v1.5 M640.70 185.8 v-1.5 M640.70 78.4 v1.5 M645.67 185.8 v-1.5 M645.67 78.4 v1.5 M650.64 185.8 v-1.5 M650.64 78.4 v1.5 M655.61 185.8 v-1.5 M655.61 78.4 v1.5 M660.58 185.8 v-1.5 M660.58 78.4 v1.5 M665.55 185.8 v-1.5 M665.55 78.4 v1.5 M670.52 185.8 v-1.5 M670.52 78.4 v1.5 M675.49 185.8 v-1.5 M675.49 78.4 v1.5 M680.46 185.8 v-1.5 M680.46 78.4 v1.5 M685.43 185.8 v-1.5 M685.43 78.4 v1.5 M690.40 185.8 v-1.5 M690.40 78.4 v1.5 M695.37 185.8 v-1.5 M695.37 78.4 v1.5 M700.34 185.8 v-1.5 M700.34 78.4 v1.5 M705.31 185.8 v-1.5 M705.31 78.4 v1.5 M710.28 185.8 v-1.5 M710.28 78.4 v1.5 M541.3 173.8 h2.2 M715.3 173.8 h-2.2 M541.3 158.7 h2.2 M715.3 158.7 h-2.2 M541.3 123.5 h2.2 M715.3 123.5 h-2.2 M541.3 108.4 h2.2 M715.3 108.4 h-2.2 M541.3 178.7 h1.5 M715.3 178.7 h-1.5 M541.3 169.9 h1.5 M715.3 169.9 h-1.5 M541.3 166.5 h1.5 M715.3 166.5 h-1.5 M541.3 163.6 h1.5 M715.3 163.6 h-1.5 M541.3 161.0 h1.5 M715.3 161.0 h-1.5 M541.3 143.6 h1.5 M715.3 143.6 h-1.5 M541.3 134.7 h1.5 M715.3 134.7 h-1.5 M541.3 128.4 h1.5 M715.3 128.4 h-1.5 M541.3 119.6 h1.5 M715.3 119.6 h-1.5 M541.3 116.2 h1.5 M715.3 116.2 h-1.5 M541.3 113.3 h1.5 M715.3 113.3 h-1.5 M541.3 110.7 h1.5 M715.3 110.7 h-1.5 M541.3 93.3 h1.5 M715.3 93.3 h-1.5 M541.3 84.4 h1.5 M715.3 84.4 h-1.5" stroke="#000" stroke-width="0.8" fill="none"/>
</svg>
</body></html>
